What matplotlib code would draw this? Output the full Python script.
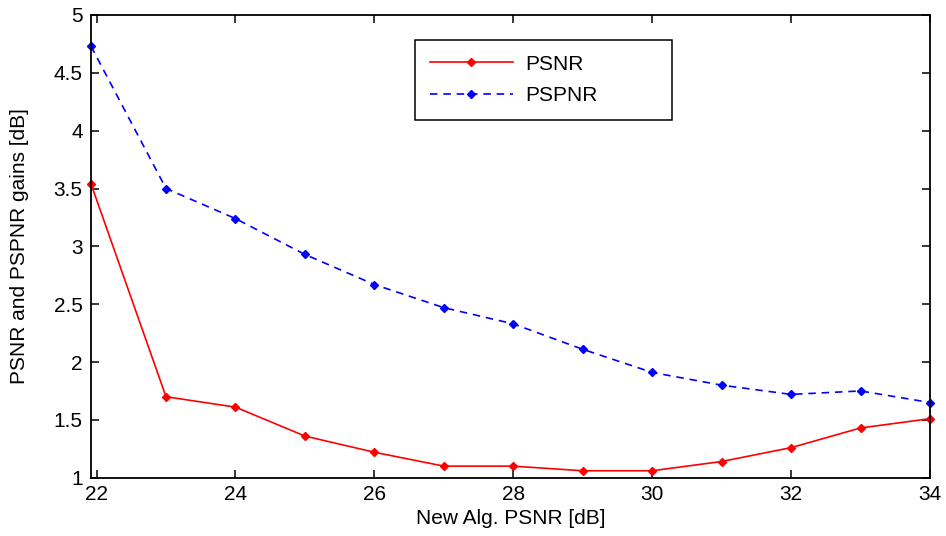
import matplotlib
matplotlib.use("Agg")
import matplotlib.pyplot as plt
from matplotlib.ticker import FixedLocator, FixedFormatter

# ---- data ----
x_vals = [21.92, 23, 24, 25, 26, 27, 28, 29, 30, 31, 32, 33, 34]
psnr = [3.54, 1.70, 1.61, 1.36, 1.22, 1.10, 1.10, 1.06, 1.06, 1.14, 1.26, 1.43, 1.51]
pspnr = [4.73, 3.50, 3.24, 2.93, 2.67, 2.47, 2.33, 2.11, 1.91, 1.80, 1.72, 1.75, 1.65]

x_ticks = [22, 24, 26, 28, 30, 32, 34]
x_tick_labels = ["22", "24", "26", "28", "30", "32", "34"]
y_ticks = [1, 1.5, 2, 2.5, 3, 3.5, 4, 4.5, 5]
y_tick_labels = ["1", "1.5", "2", "2.5", "3", "3.5", "4", "4.5", "5"]

series_names = ["PSNR", "PSPNR"]
x_label = "New Alg. PSNR [dB]"
y_label = "PSNR and PSPNR gains [dB]"

plt.rcParams['font.family'] = ['Liberation Sans', 'DejaVu Sans']

W, H = 946, 536
fig = plt.figure(figsize=(W / 100, H / 100), dpi=100)
ax = fig.add_axes([91 / W, 1 - 477.7 / H, (930 - 91) / W, (477.7 - 15) / H])

ax.plot(x_vals, psnr, color='#ff0000', linestyle='-', linewidth=1.2,
        marker='D', markersize=4, clip_on=False, label=series_names[0])
ax.plot(x_vals, pspnr, color='#0000ff', linestyle=(0, (4.5, 3.5)), linewidth=1.2,
        marker='D', markersize=4, clip_on=False, label=series_names[1])

ax.set_xlim(21.92, 34.0)
ax.set_ylim(1, 5)
ax.xaxis.set_major_locator(FixedLocator(x_ticks))
ax.xaxis.set_major_formatter(FixedFormatter(x_tick_labels))
ax.yaxis.set_major_locator(FixedLocator(y_ticks))
ax.yaxis.set_major_formatter(FixedFormatter(y_tick_labels))

ax.tick_params(direction='in', length=6, width=1.1, top=True, right=True,
               labelsize=15, colors='black')
ax.tick_params(axis='y', pad=6)
ax.tick_params(axis='x', pad=5)
for s in ax.spines.values():
    s.set_linewidth(1.3)
    s.set_color('black')

ax.set_xlabel(x_label, fontsize=15, labelpad=4)
ax.set_ylabel(y_label, fontsize=15)
ax.yaxis.set_label_coords(-0.074, 0.5)

leg = ax.legend(loc='upper left',
                bbox_to_anchor=(415 / W, 1 - 116 / H, 257 / W, 76 / H),
                bbox_transform=fig.transFigure, borderaxespad=0, mode='expand',
                fontsize=15, handlelength=4.0, handletextpad=0.6,
                labelspacing=0.6, borderpad=0.7, fancybox=False,
                edgecolor='black', framealpha=1)
leg.get_frame().set_linewidth(1.1)
leg.get_frame().set_boxstyle('square', pad=0)

fig.savefig("out.png", dpi=100)
